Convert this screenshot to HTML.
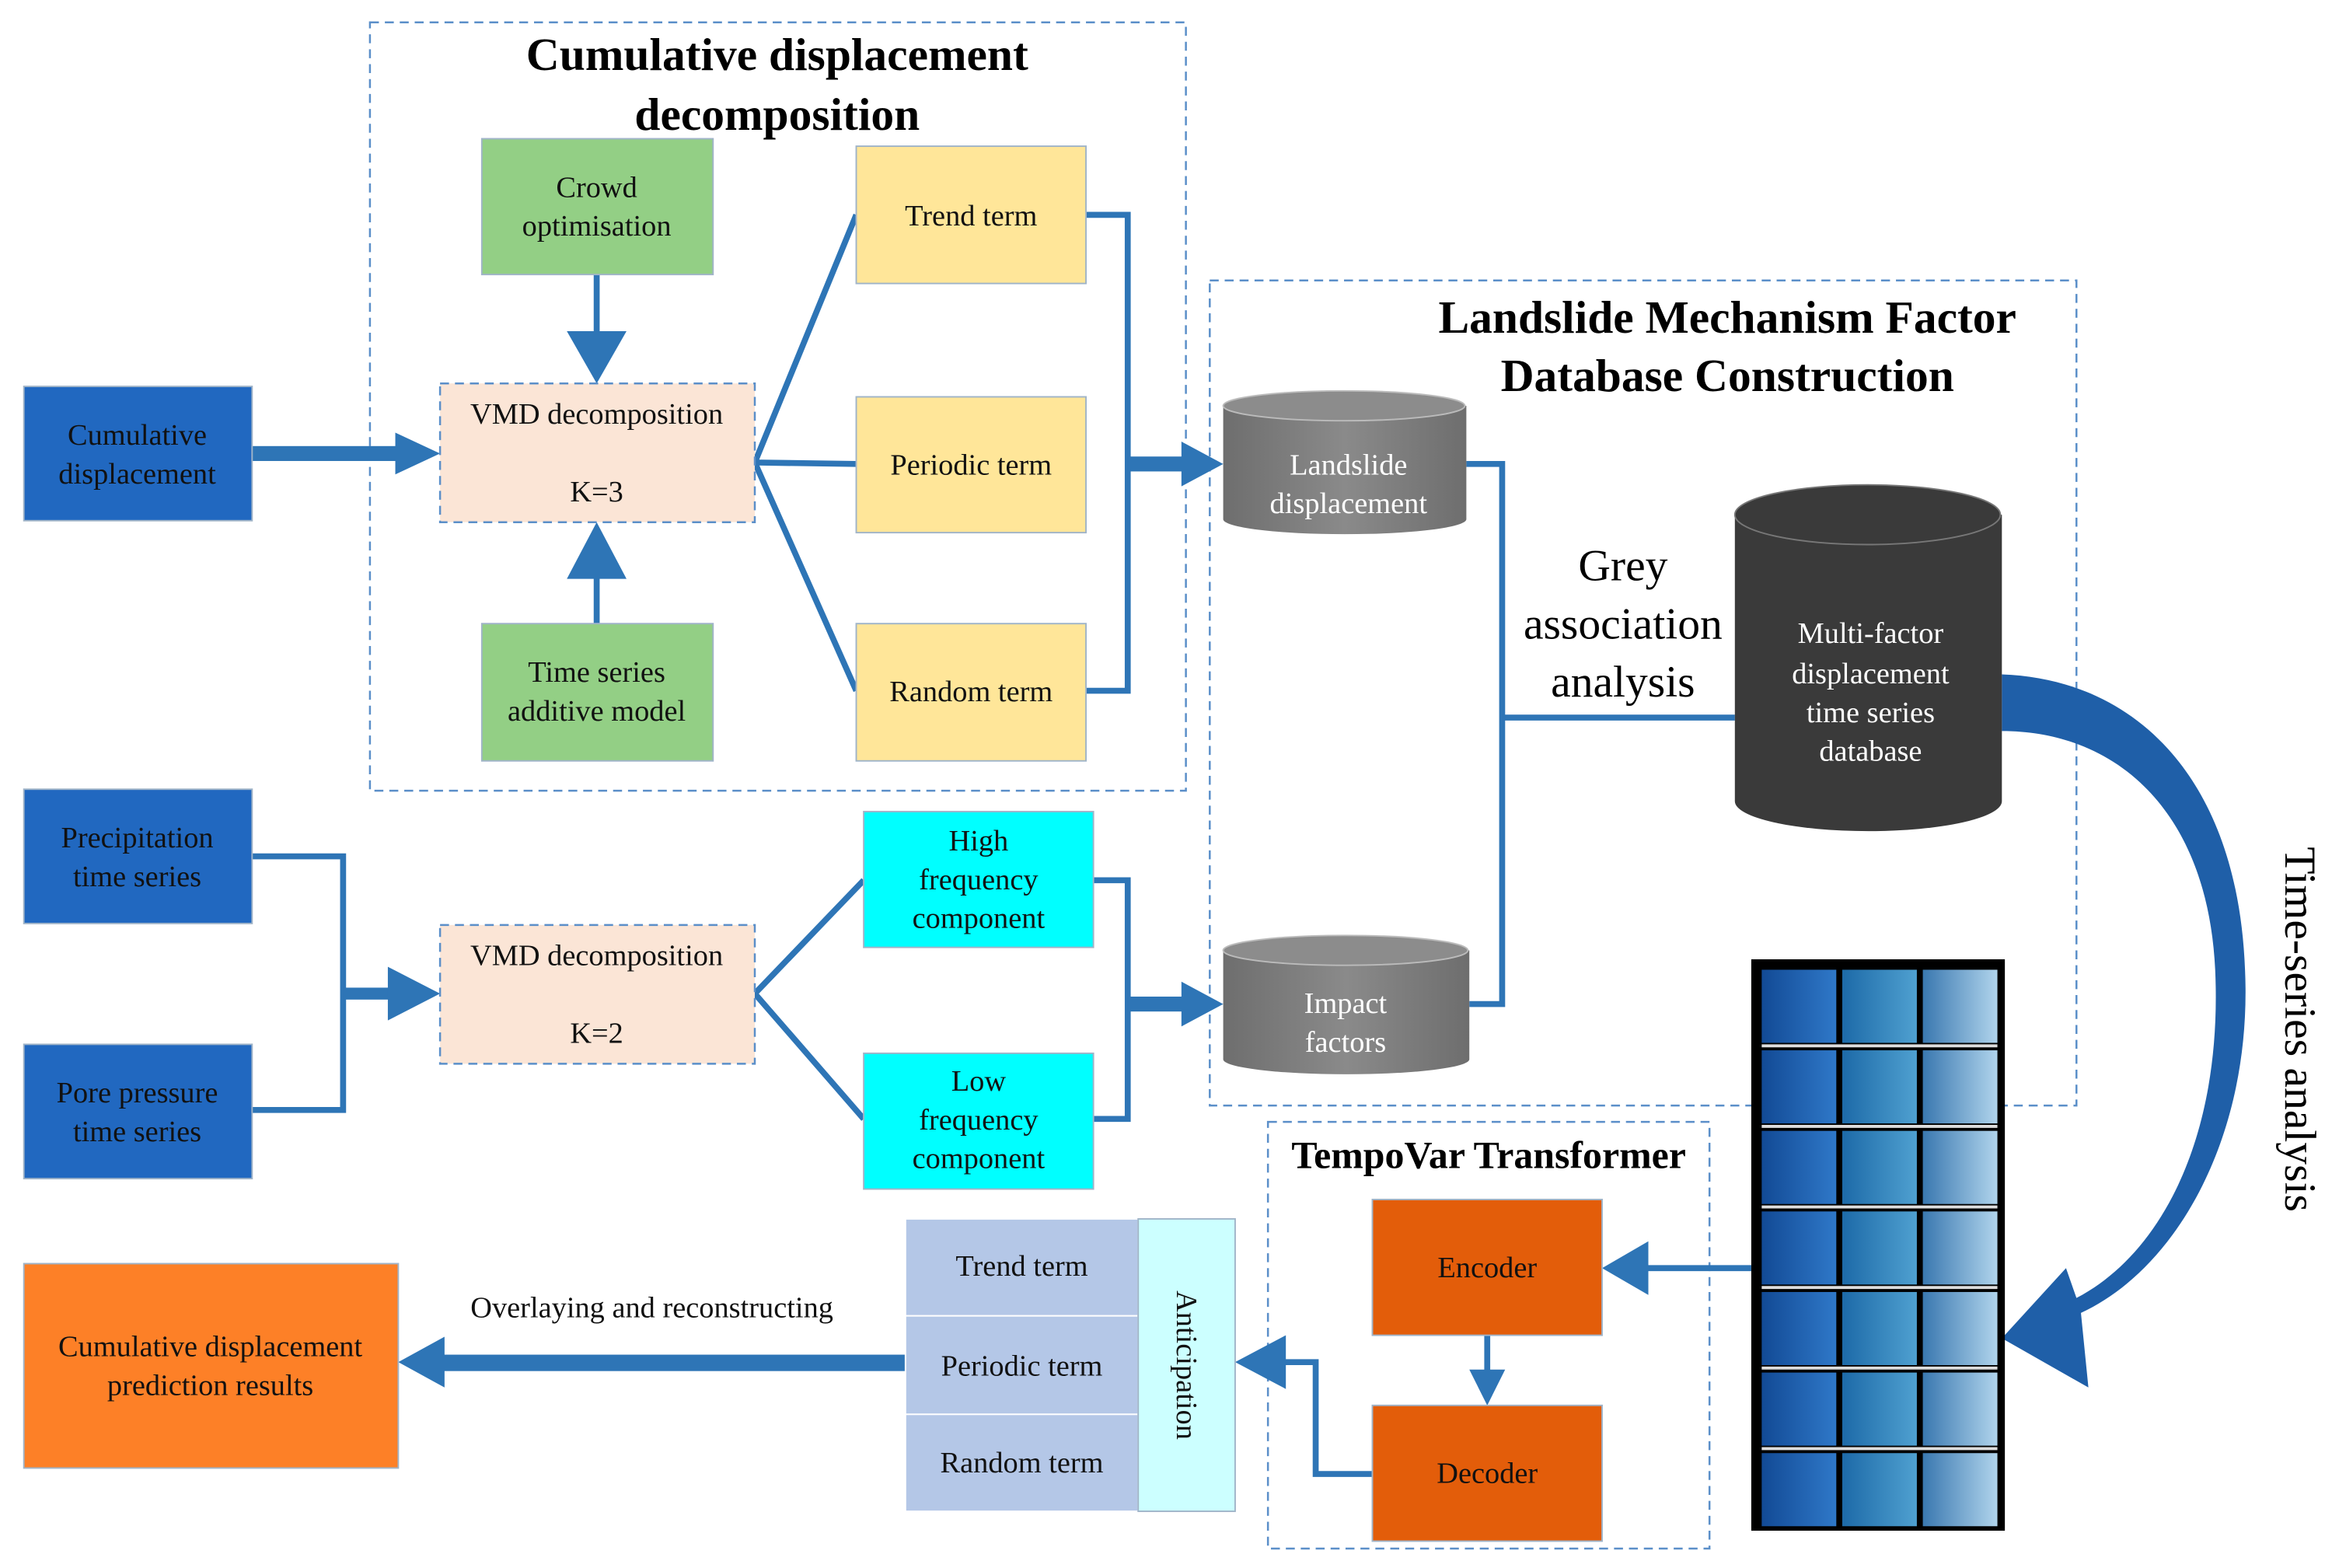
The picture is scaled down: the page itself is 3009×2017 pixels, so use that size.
<!DOCTYPE html>
<html><head><meta charset="utf-8"><style>
html,body{margin:0;padding:0;background:#fff;}
svg{display:block;}
svg text{font-family:"Liberation Serif","Times New Roman",serif !important;}
</style></head><body>
<svg width="3009" height="2017" viewBox="0 0 1568 1051" preserveAspectRatio="none" xmlns="http://www.w3.org/2000/svg" font-family="Liberation Serif, serif">
<defs>
<linearGradient id="c1" x1="0" x2="1"><stop offset="0" stop-color="#124a95"/><stop offset="1" stop-color="#2f78c8"/></linearGradient>
<linearGradient id="c2" x1="0" x2="1"><stop offset="0" stop-color="#1d6aa8"/><stop offset="1" stop-color="#4fa0d0"/></linearGradient>
<linearGradient id="c3" x1="0" x2="1"><stop offset="0" stop-color="#3a78b0"/><stop offset="1" stop-color="#b0d4ec"/></linearGradient>
<linearGradient id="cyl" x1="0" x2="1"><stop offset="0" stop-color="#6e6e6e"/><stop offset=".5" stop-color="#8a8a8a"/><stop offset="1" stop-color="#6e6e6e"/></linearGradient>
</defs>
<g fill="none" stroke="#5b8fc9" stroke-width="1.3" stroke-dasharray="6,4">
<rect x="248" y="15" width="547" height="515"/>
<rect x="811" y="188" width="581" height="553"/>
<rect x="850" y="752" width="296" height="286"/>
</g>
<g font-weight="bold" font-size="31" text-anchor="middle" fill="#000">
<text x="521" y="47">Cumulative displacement</text>
<text x="521" y="87">decomposition</text>
<text x="1158" y="223">Landslide Mechanism Factor</text>
<text x="1158" y="262">Database Construction</text>
<text x="998" y="783" font-size="26">TempoVar Transformer</text>
</g>
<g stroke="#2e75b6" stroke-width="4" fill="none">
<polyline points="574,144 506,310 574,311"/>
<polyline points="506,310 574,463"/>
<polyline points="728,144 756,144 756,463 728,463"/>
<polyline points="169,574 230,574 230,744 169,744"/>
<polyline points="579,590 506,666 579,750"/>
<polyline points="733,590 756,590 756,750 733,750"/>
<polyline points="983,311 1007,311 1007,673 985,673"/>
<line x1="1007" y1="481" x2="1163" y2="481"/>
<line x1="1174" y1="850" x2="1105" y2="850"/>
<line x1="997" y1="895" x2="997" y2="920"/>
<polyline points="920,988 882,988 882,913 860,913"/>
<line x1="400" y1="184" x2="400" y2="225"/>
<line x1="400" y1="418" x2="400" y2="385"/>
</g>
<g fill="#2e75b6">
<polygon points="380,222 420,222 400,257"/>
<polygon points="380,388 420,388 400,350"/>
<polygon points="1105,832 1105,868 1074,850"/>
<polygon points="985,918 1009,918 997,942"/>
<polygon points="862,895 862,931 828,913"/>
<rect x="169" y="299" width="100" height="10"/><polygon points="265,290 265,318 295,304"/>
<rect x="230" y="662" width="35" height="8"/><polygon points="260,648 260,684 295,666"/>
<rect x="756" y="306" width="40" height="10"/><polygon points="792,296 792,326 820,311"/>
<rect x="756" y="668" width="40" height="10"/><polygon points="792,658 792,688 820,673"/>
<rect x="296" y="908" width="311" height="11"/><polygon points="298,896 298,930 267,913"/>
<path fill="#1f5fa8" d="M1342,452 C1430,455 1500,520 1505,650 C1510,760 1460,850 1395,880 L1400,930 L1342,897 L1385,850 L1392,870 C1450,840 1490,760 1485,650 C1480,545 1420,490 1342,490 Z"/>
</g>
<g stroke="#a0b4c8" stroke-width="1">
<rect x="16" y="259" width="153" height="90" fill="#2168c0"/>
<rect x="16" y="529" width="153" height="90" fill="#2168c0"/>
<rect x="16" y="700" width="153" height="90" fill="#2168c0"/>
<rect x="323" y="93" width="155" height="91" fill="#93cf85"/>
<rect x="323" y="418" width="155" height="92" fill="#93cf85"/>
<rect x="574" y="98" width="154" height="92" fill="#ffe699"/>
<rect x="574" y="266" width="154" height="91" fill="#ffe699"/>
<rect x="574" y="418" width="154" height="92" fill="#ffe699"/>
<rect x="579" y="544" width="154" height="91" fill="#00ffff"/>
<rect x="579" y="706" width="154" height="91" fill="#00ffff"/>
<rect x="607" y="817" width="156" height="65" fill="#b4c7e7" stroke="#fff"/>
<rect x="607" y="882" width="156" height="66" fill="#b4c7e7" stroke="#fff"/>
<rect x="607" y="948" width="156" height="65" fill="#b4c7e7" stroke="#fff"/>
<rect x="763" y="817" width="65" height="196" fill="#ccffff"/>
<rect x="16" y="847" width="251" height="137" fill="#fd8027"/>
<rect x="920" y="804" width="154" height="91" fill="#e35d0a"/>
<rect x="920" y="942" width="154" height="91" fill="#e35d0a"/>
</g>
<g fill="#fbe5d6" stroke="#5b8fc9" stroke-width="1.3" stroke-dasharray="6,4">
<rect x="295" y="257" width="211" height="93"/>
<rect x="295" y="620" width="211" height="93"/>
</g>
<g>
<path d="M820,272 L820,348 A81,10 0 0 0 983,348 L983,272 Z" fill="url(#cyl)"/>
<ellipse cx="901" cy="272" rx="81" ry="10" fill="#8c8c8c" stroke="#bbb"/>
<path d="M820,637 L820,710 A82,10 0 0 0 985,710 L985,637 Z" fill="url(#cyl)"/>
<ellipse cx="902" cy="637" rx="82" ry="10" fill="#8c8c8c" stroke="#bbb"/>
<path d="M1163,345 L1163,537 A89,20 0 0 0 1342,537 L1342,345 Z" fill="#3a3a3a"/>
<ellipse cx="1252" cy="345" rx="89" ry="20" fill="#3a3a3a" stroke="#777"/>
</g>
<rect x="1174" y="643" width="170" height="383" fill="#000"/>
<g>
<g id="row">
<rect x="1181" y="650" width="50" height="49" fill="url(#c1)"/>
<rect x="1235" y="650" width="50" height="49" fill="url(#c2)"/>
<rect x="1289" y="650" width="50" height="49" fill="url(#c3)"/>
</g>
<use href="#row" y="54"/><use href="#row" y="108"/><use href="#row" y="162"/><use href="#row" y="216"/><use href="#row" y="270"/><use href="#row" y="324"/>
</g>
<g stroke="#ddd" stroke-width="2"><line x1="1181" y1="701" x2="1339" y2="701"/><line x1="1181" y1="755" x2="1339" y2="755"/><line x1="1181" y1="809" x2="1339" y2="809"/><line x1="1181" y1="863" x2="1339" y2="863"/><line x1="1181" y1="917" x2="1339" y2="917"/><line x1="1181" y1="971" x2="1339" y2="971"/></g>
<g font-size="20" text-anchor="middle" fill="#111">
<text x="92" y="298">Cumulative</text><text x="92" y="324">displacement</text>
<text x="92" y="568">Precipitation</text><text x="92" y="594">time series</text>
<text x="92" y="739">Pore pressure</text><text x="92" y="765">time series</text>
<text x="400" y="132">Crowd</text><text x="400" y="158">optimisation</text>
<text x="400" y="457">Time series</text><text x="400" y="483">additive model</text>
<text x="400" y="284">VMD decomposition</text><text x="400" y="336">K=3</text>
<text x="400" y="647">VMD decomposition</text><text x="400" y="699">K=2</text>
<text x="651" y="151">Trend term</text>
<text x="651" y="318">Periodic term</text>
<text x="651" y="470">Random term</text>
<text x="656" y="570">High</text><text x="656" y="596">frequency</text><text x="656" y="622">component</text>
<text x="656" y="731">Low</text><text x="656" y="757">frequency</text><text x="656" y="783">component</text>
<text x="685" y="855">Trend term</text>
<text x="685" y="922">Periodic term</text>
<text x="685" y="987">Random term</text>
<text x="141" y="909">Cumulative displacement</text><text x="141" y="935">prediction results</text>
<text x="437" y="883">Overlaying and reconstructing</text>
<text x="997" y="856">Encoder</text>
<text x="997" y="994">Decoder</text>
<text transform="translate(789,915) rotate(90)">Anticipation</text>
<g fill="#fff">
<text x="904" y="318">Landslide</text><text x="904" y="344">displacement</text>
<text x="902" y="679">Impact</text><text x="902" y="705">factors</text>
<text x="1254" y="431">Multi-factor</text><text x="1254" y="458">displacement</text><text x="1254" y="484">time series</text><text x="1254" y="510">database</text>
</g>
<g font-size="30" fill="#000">
<text x="1088" y="389">Grey</text><text x="1088" y="428">association</text><text x="1088" y="467">analysis</text>
<text transform="translate(1532,690) rotate(90)">Time-series analysis</text>
</g>
</g>
</svg>
</body></html>
